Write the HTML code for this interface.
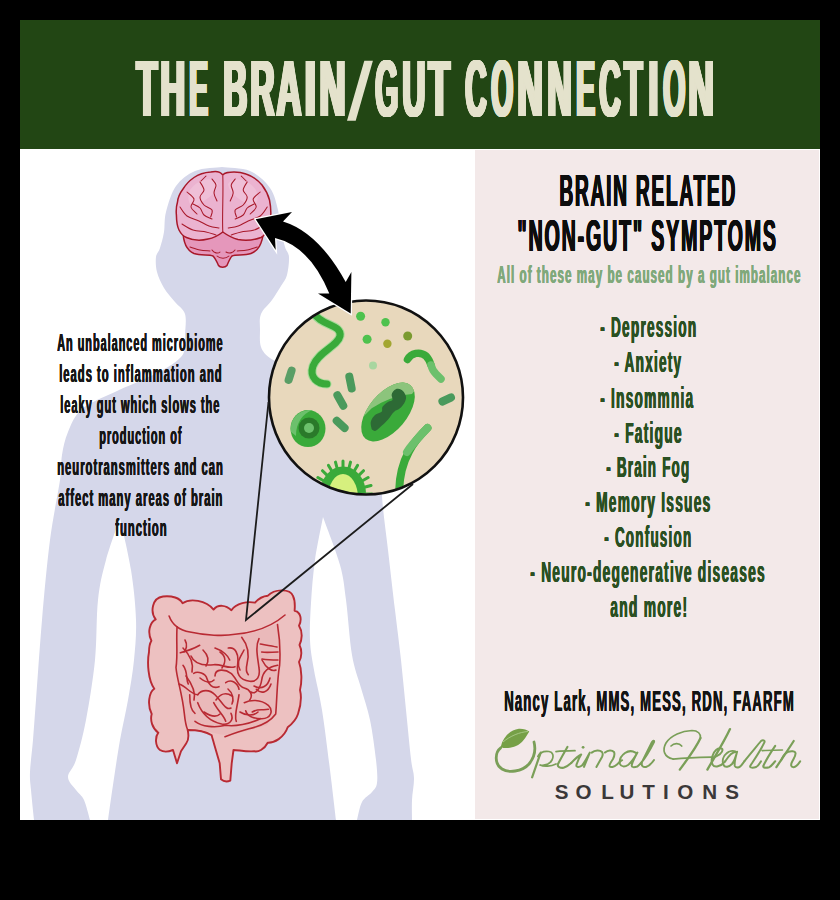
<!DOCTYPE html><html><head><meta charset="utf-8"><style>

*{margin:0;padding:0}
html,body{width:840px;height:900px;background:#000;overflow:hidden}
body{position:relative;font-family:"Liberation Sans",sans-serif}
.card{position:absolute;left:20px;top:20px;width:800px;height:800px;background:#fff}
.hdr{position:absolute;left:20px;top:20px;width:800px;height:129px;background:#224614}
.pnl{position:absolute;left:475px;top:150px;width:344px;height:669px;background:#f3e9e9}
.t{position:absolute;white-space:nowrap;font-weight:700;transform-origin:0 0}
svg.ill{position:absolute;left:0;top:0}

</style></head><body>
<div class="card"></div><div class="hdr"></div><div class="pnl"></div>
<svg class="ill" width="840" height="900" viewBox="0 0 840 900">
<path fill="#e4e2cc" d="M347,120.7 L355.7,120.7 L372.9,60.7 L364.3,60.7 Z"/>
<path fill="#d5d7ea" d="M222,167 C226.7,167.7 242.0,167.5 250.0,171.0 C258.0,174.5 265.3,181.5 270.0,188.0 C274.7,194.5 276.2,203.0 278.0,210.0 C279.8,217.0 279.8,223.8 281.0,230.0 C282.2,236.2 283.7,242.5 285.0,247.0 C286.3,251.5 288.7,252.3 289.0,257.0 C289.3,261.7 288.3,270.2 287.0,275.0 C285.7,279.8 283.5,281.8 281.0,286.0 C278.5,290.2 275.3,295.3 272.0,300.0 C268.7,304.7 263.0,309.0 261.0,314.0 C259.0,319.0 260.0,324.5 260.0,330.0 C260.0,335.5 259.3,342.3 261.0,347.0 C262.7,351.7 265.2,354.5 270.0,358.0 C274.8,361.5 280.0,362.7 290.0,368.0 C300.0,373.3 318.0,383.3 330.0,390.0 C342.0,396.7 354.0,401.0 362.0,408.0 C370.0,415.0 374.5,422.5 378.0,432.0 C381.5,441.5 382.3,454.3 383.0,465.0 C383.7,475.7 381.2,481.8 382.0,496.0 C382.8,510.2 385.8,531.0 388.0,550.0 C390.2,569.0 392.8,591.7 395.0,610.0 C397.2,628.3 399.2,643.3 401.0,660.0 C402.8,676.7 404.3,693.5 406.0,710.0 C407.7,726.5 409.7,747.7 411.0,759.0 C412.3,770.3 413.8,771.2 414.0,778.0 C414.2,784.8 412.3,793.0 412.0,800.0 C411.7,807.0 412.0,816.7 412.0,820.0 L357,820 C357.8,817.0 359.5,806.7 362.0,802.0 C364.5,797.3 369.5,795.2 372.0,792.0 C374.5,788.8 376.3,788.3 377.0,783.0 C377.7,777.7 377.2,770.5 376.0,760.0 C374.8,749.5 372.5,732.0 370.0,720.0 C367.5,708.0 364.0,698.8 361.0,688.0 C358.0,677.2 354.5,669.7 352.0,655.0 C349.5,640.3 348.0,615.0 346.0,600.0 C344.0,585.0 343.8,578.8 340.0,565.0 C336.2,551.2 325.8,525.0 323.0,517.0 C321.7,524.2 317.0,545.7 315.0,560.0 C313.0,574.3 311.8,589.7 311.0,603.0 C310.2,616.3 309.5,628.8 310.0,640.0 C310.5,651.2 312.0,658.3 314.0,670.0 C316.0,681.7 319.3,693.3 322.0,710.0 C324.7,726.7 327.7,751.7 330.0,770.0 C332.3,788.3 335.0,811.7 336.0,820.0 L108,820 C108.8,814.2 111.0,798.3 113.0,785.0 C115.0,771.7 117.5,754.2 120.0,740.0 C122.5,725.8 125.7,713.3 128.0,700.0 C130.3,686.7 132.7,673.3 134.0,660.0 C135.3,646.7 136.5,635.0 136.0,620.0 C135.5,605.0 133.7,587.0 131.0,570.0 C128.3,553.0 121.8,526.7 120.0,518.0 C117.7,525.0 109.7,546.3 106.0,560.0 C102.3,573.7 99.8,583.3 98.0,600.0 C96.2,616.7 97.0,640.0 95.0,660.0 C93.0,680.0 89.2,703.3 86.0,720.0 C82.8,736.7 79.0,750.5 76.0,760.0 C73.0,769.5 68.0,772.0 68.0,777.0 C68.0,782.0 73.3,786.2 76.0,790.0 C78.7,793.8 81.7,795.0 84.0,800.0 C86.3,805.0 89.0,816.7 90.0,820.0 L34,820 C33.5,815.0 31.7,798.0 31.0,790.0 C30.3,782.0 29.7,780.3 30.0,772.0 C30.3,763.7 32.0,752.0 33.0,740.0 C34.0,728.0 34.5,720.0 36.0,700.0 C37.5,680.0 39.7,646.7 42.0,620.0 C44.3,593.3 47.0,563.3 50.0,540.0 C53.0,516.7 58.0,494.2 60.0,480.0 C62.0,465.8 60.7,463.0 62.0,455.0 C63.3,447.0 64.7,439.7 68.0,432.0 C71.3,424.3 74.2,415.7 82.0,409.0 C89.8,402.3 103.2,397.7 115.0,392.0 C126.8,386.3 143.2,379.8 153.0,375.0 C162.8,370.2 168.8,366.8 174.0,363.0 C179.2,359.2 182.2,356.7 184.0,352.0 C185.8,347.3 184.8,341.3 185.0,335.0 C185.2,328.7 186.7,319.5 185.0,314.0 C183.3,308.5 178.5,306.3 175.0,302.0 C171.5,297.7 167.0,293.0 164.0,288.0 C161.0,283.0 158.3,277.2 157.0,272.0 C155.7,266.8 155.5,261.0 156.0,257.0 C156.5,253.0 158.7,252.2 160.0,248.0 C161.3,243.8 163.0,238.0 164.0,232.0 C165.0,226.0 164.0,219.7 166.0,212.0 C168.0,204.3 171.2,192.8 176.0,186.0 C180.8,179.2 187.3,174.2 195.0,171.0 C202.7,167.8 217.5,167.7 222.0,167.0 Z"/>
<g stroke-linejoin="round">
<path fill="#e597bb" stroke="#a8182a" stroke-width="1.5" d="M183,230 C183,242 186,250 194,253.5 C201,256 209,254 213,256 C215,258 217,262 218.5,265.5 C220,267.8 225,267.8 227,265.5 C228.5,262 230,258 232,256 C236,254 244,256 251,253.5 C258,251 262,245 264,230 Z"/>
<path fill="#ebb3d0" stroke="#a8182a" stroke-width="1.5" d="M222.8,175 C220,171 215,171 210.7,172 C204,172.5 199,174 194,177.5 C189,181 186,184 183,189 C180,193 178,196 177.5,202 C176,207 176,211 176.4,215 C176.5,221 177,226 179,230 C181,234 183,236 186.4,237.5 C192,240 200,241 208,239 C214,238 219,235 222.8,232 C227,235 232,238 238,239.5 C246,241 254,240 261,237.5 C264,236 266,233 267.5,230 C270,225 271,220 270.8,215 C271,210 270.5,205 269.5,200 C268,194 265,189 262,185 C258,180 252,176 246,174 C242,172.5 238,172 234,172 C229,172 225,172 222.8,175 Z"/>
<path fill="#f2c6dc" opacity="0.6" d="M190,190 C198,178 214,176 218,184 C216,196 204,200 196,206 C190,208 186,200 190,190 Z M256,190 C248,178 232,176 228,184 C230,196 242,200 250,206 C256,208 260,200 256,190 Z"/>
<g fill="none" stroke="#a8182a" stroke-width="1.05" stroke-linecap="round">
<path d="M222.8,176 C223.5,195 222,215 222.8,232"/>
<path d="M212.0,179.0 C212.7,180.0 215.7,182.7 216.0,185.0 C216.3,187.3 213.8,190.3 214.0,193.0 C214.2,195.7 216.5,199.7 217.0,201.0"/><path d="M200.0,182.0 C200.7,183.3 204.0,187.5 204.0,190.0 C204.0,192.5 200.0,194.5 200.0,197.0 C200.0,199.5 202.0,202.8 204.0,205.0 C206.0,207.2 210.9,208.0 212.0,210.0 C213.1,212.0 210.9,215.8 210.7,217.0"/><path d="M187.0,192.0 C188.2,193.2 193.3,196.5 194.0,199.0 C194.7,201.5 190.5,204.5 191.0,207.0 C191.5,209.5 196.0,212.8 197.0,214.0"/><path d="M180.0,207.0 C181.2,208.5 183.8,213.7 187.0,216.0 C190.2,218.3 195.3,219.3 199.0,221.0 C202.7,222.7 205.7,224.8 209.0,226.0 C212.3,227.2 217.3,227.7 219.0,228.0"/><path d="M193.0,204.0 C194.2,204.7 198.2,206.2 200.0,208.0 C201.8,209.8 202.0,213.2 204.0,215.0 C206.0,216.8 210.7,218.3 212.0,219.0"/><path d="M182.0,224.0 C183.8,225.0 189.0,228.7 193.0,230.0 C197.0,231.3 202.2,231.2 206.0,232.0 C209.8,232.8 214.3,234.5 216.0,235.0"/><path d="M206.0,176.0 C205.2,176.8 201.8,180.2 201.0,181.0"/><path d="M190.0,247.0 C191.7,247.5 196.7,249.3 200.0,250.0 C203.3,250.7 208.3,250.8 210.0,251.0"/><path d="M235.2,179.0 C234.5,180.0 231.5,182.7 231.2,185.0 C230.9,187.3 233.4,190.3 233.2,193.0 C233.0,195.7 230.7,199.7 230.2,201.0"/><path d="M247.2,182.0 C246.5,183.3 243.2,187.5 243.2,190.0 C243.2,192.5 247.2,194.5 247.2,197.0 C247.2,199.5 245.2,202.8 243.2,205.0 C241.2,207.2 236.3,208.0 235.2,210.0 C234.1,212.0 236.3,215.8 236.5,217.0"/><path d="M260.2,192.0 C259.0,193.2 253.9,196.5 253.2,199.0 C252.5,201.5 256.7,204.5 256.2,207.0 C255.7,209.5 251.2,212.8 250.2,214.0"/><path d="M267.2,207.0 C266.0,208.5 263.4,213.7 260.2,216.0 C257.0,218.3 251.9,219.3 248.2,221.0 C244.5,222.7 241.5,224.8 238.2,226.0 C234.9,227.2 229.9,227.7 228.2,228.0"/><path d="M254.2,204.0 C253.0,204.7 249.0,206.2 247.2,208.0 C245.4,209.8 245.2,213.2 243.2,215.0 C241.2,216.8 236.5,218.3 235.2,219.0"/><path d="M265.2,224.0 C263.4,225.0 258.2,228.7 254.2,230.0 C250.2,231.3 245.0,231.2 241.2,232.0 C237.4,232.8 232.9,234.5 231.2,235.0"/><path d="M241.2,176.0 C242.0,176.8 245.4,180.2 246.2,181.0"/><path d="M257.2,247.0 C255.5,247.5 250.5,249.3 247.2,250.0 C243.9,250.7 238.9,250.8 237.2,251.0"/>
<path d="M212,250 C214,253 218,254 220,252 M226,252 C229,254 233,253 235,250 M217,256 C220,259 226,259 229,256"/>
</g></g>
<defs><clipPath id="cc"><circle cx="366" cy="397.5" r="96"/></clipPath></defs>
<circle cx="366" cy="397.5" r="97" fill="#e8d8bc"/>
<g clip-path="url(#cc)" stroke-linecap="round" fill="none"><path stroke="#a6dc9a" stroke-width="9" d="M313,312 C320,326 342,324 340,336 C338,346 318,352 313,366 C309,378 318,384 327,384"/><path stroke="#3aaa3a" stroke-width="7" d="M313,312 C320,326 342,324 340,336 C338,346 318,352 313,366 C309,378 318,384 327,384"/><path stroke="#5a9e66" stroke-width="8" d="M291.6,370.6 L288.6,380"/><path stroke="#4a9a5c" stroke-width="8" d="M349.3,376.6 L351.7,388.5"/><path stroke="#4a9a5c" stroke-width="8" d="M337.4,395.2 L343.3,405.7"/><path stroke="#4a9a5c" stroke-width="8" d="M336.7,420.8 L344.6,428"/><path stroke="#4a9a5c" stroke-width="8" d="M442.4,401.5 L451,397.5"/></g><g clip-path="url(#cc)"><circle cx="360.6" cy="316.3" r="4.5" fill="#4ec24e"/><circle cx="385.5" cy="322.2" r="4.2" fill="#4ec24e"/><circle cx="367.1" cy="339.3" r="4.5" fill="#4ec24e"/><circle cx="387.4" cy="343.8" r="4.2" fill="#a2a632"/><circle cx="407.7" cy="336" r="4.5" fill="#7a9a30"/><circle cx="373" cy="365.4" r="4" fill="#a8d6a0"/><path fill="none" stroke-linecap="round" stroke="#3aaa3a" stroke-width="7.5" d="M407.5,359.5 C411,353 420,351 426,356 C429,359 430,362 431,365"/><path fill="none" stroke-linecap="round" stroke="#6cc06c" stroke-width="7.5" d="M431,365 C432,369 434,372 436,374 C438,376 439.5,377.5 441,379"/><ellipse cx="308" cy="428.6" rx="17.5" ry="18.5" fill="#3aaa3a"/><path fill="#6cc06c" d="M291,432 C289,418 300,409 312,410 C303,414 296,422 296,436 Z"/><circle cx="309" cy="428" r="10.5" fill="#2a7a2a"/><circle cx="309" cy="428" r="5" fill="#6cc06c"/><ellipse cx="388" cy="412" rx="35" ry="19" transform="rotate(-50 388 412)" fill="#3aaa3a"/><defs><clipPath id="bc"><ellipse cx="388" cy="412" rx="35" ry="19" transform="rotate(-50 388 412)"/></clipPath></defs><path clip-path="url(#bc)" fill="#8cc47c" d="M350,370 L360,420 L371.7,408.3 C385,400 395,396 412,394 L430,370 Z"/><path fill="#2d6a35" d="M371.7,429.2 C371.6,427.9 370.2,424.1 370.8,421.7 C371.4,419.3 373.2,416.7 375.0,415.0 C376.8,413.3 380.4,413.1 381.7,411.7 C382.9,410.3 381.4,408.4 382.5,406.7 C383.6,405.0 386.6,402.8 388.3,401.7 C390.0,400.6 391.9,401.2 392.5,400.0 C393.1,398.8 391.1,396.0 391.7,394.2 C392.2,392.4 394.1,389.9 395.8,389.2 C397.5,388.5 400.0,388.9 401.7,390.0 C403.4,391.1 405.2,393.9 405.8,395.8 C406.4,397.8 406.0,399.6 405.0,401.7 C404.0,403.8 401.8,406.6 400.0,408.3 C398.2,410.0 396.1,409.9 394.2,411.7 C392.2,413.5 390.2,417.0 388.3,419.2 C386.4,421.4 384.6,423.1 382.5,425.0 C380.4,426.9 377.6,430.1 375.8,430.8 C374.0,431.5 372.4,429.5 371.7,429.2 Z"/><path fill="none" stroke-linecap="round" stroke="#3aaa3a" stroke-width="8" d="M427.4,428 C415,440 400,458 399.2,490"/><path fill="none" stroke-linecap="round" stroke="#6cc06c" stroke-width="8" d="M427.4,428 C420,436 412,444 407,452"/><path stroke="#3aaa3a" stroke-width="3" stroke-linecap="round" d="M320.0,494.0 L314.0,494.0 M320.8,487.0 L315.0,485.5 M323.1,480.5 L317.9,477.5 M326.7,474.9 L322.5,470.7 M331.5,470.6 L328.5,465.4 M337.0,467.9 L335.5,462.1 M343.0,467.0 L343.0,461.0 M349.0,467.9 L350.5,462.1 M354.5,470.6 L357.5,465.4 M359.3,474.9 L363.5,470.7 M362.9,480.5 L368.1,477.5 M365.2,487.0 L371.0,485.5 M366.0,494.0 L372.0,494.0"/><ellipse cx="343" cy="494" rx="23" ry="27.5" fill="#3aaa3a"/><ellipse cx="343" cy="498" rx="15" ry="24" fill="#d6f07e"/></g>
<circle cx="366" cy="397.5" r="97" fill="none" stroke="#111" stroke-width="2.6"/>
<path fill="#000" stroke="#fff" stroke-width="2.5" paint-order="stroke" stroke-linejoin="miter" d="M255.7,219.3 L292,212 L283,221.4 Q318.45,232.3 345.7,282 L351.4,272 L350.7,313.6 L318,293.6 L329.3,293.6 Q309.85,246.2 275,238 L275.7,250 Z"/>
<path fill="#edc1c1" stroke="#b92a33" stroke-width="1.9" stroke-linejoin="round" d="M155.7,619.3
C150,612 152,598 163,596.5 C172,595.5 180,598 182.5,603.2
C190,598 206,600 213.6,609.6
C218,604 226,605 231.4,610.2
C236,603 248,601 255,602.7
C259,598 263,596 267.9,595.7
C274,589 290,588 293,596 C295,600 295,606 294.6,610.7
C301,612 302,620 299,625.7
C303,632 302,640 299.5,645
C302,650 302,657 299,662
C302,670 302,682 300,690
C302,698 300,708 298,714
C296,720 292,724 287.7,727.3
C284,738 274,743 267.7,742.7
C264,750 258,752 254.3,751.3
C246,752 238,750 233.5,750
L231.7,763.3 L230.3,780.7 C227,782 224,782 221,779.3 L219.7,763.3 L214.3,744.7 C213,740 212,737 211.7,735.3
C205,731 198,730 187.7,730
C189,736 188,741 186.3,743.3 L181,751.3 L177,763.3 L173,750
C168,752 163,752 160,750 C155,746 155,737 158.3,732.7
C152,728 150,720 151.7,714
C147,705 149,692 154.3,688.7
C148,680 147,662 149,652 C149,646 150,643 151.4,640.7
C147,632 150,622 155.7,619.3 Z"/>
<path fill="#eab9ba" d="M176.3,626.7 C190,634 210,637 224,635.5 C245,636 262,631 279,622.7 L280.3,646.7 L277.7,665.3 L276.3,702.7 L273.7,716 L267,725.3 C250,730 235,735 221.7,734.7 L188.3,726.7 L184.3,713.3 L179,684 L176.3,666.7 Z"/>
<g fill="none" stroke="#b92a33" stroke-width="1.6" stroke-linecap="round" stroke-linejoin="round"><path d="M169.1,616 C172,624 178,630 190,632 C205,635.4 224,636.4 235,634.3 C250,633 270,628 285,615"/><path d="M177.1,626.8 C176,640 178,655 176,667.5 C177,680 182,692 184.3,713.3 C185,720 186,726 187.7,730"/><path d="M277.5,624.6 C280,640 280.7,650 279.6,665.4 C277,680 277,700 275.7,714 C270,722 262,726 249,728.7 C240,731 232,734 225,736.7"/><path d="M180.3,652.7 C188.3,650.7 195,648 199.7,645.3"/><path d="M191,656 C193.7,662.7 201.7,666 213.7,664.7 C221.7,664 228.3,669.3 235,666.7"/><path d="M215,648 C223,650.7 228.3,656 229.7,660"/><path d="M228.3,648 C235,646.7 239,653.3 237.7,664 C236.3,673.3 239,680 249.7,681.3 C257.7,682 260.3,676 259,668 C257.7,657.3 255,646.7 259,638.7"/><path d="M241.7,637.3 C247,644 249.7,653.3 247,664 C245.7,669.3 247,673.3 248.3,674.7"/><path d="M260.3,644 C266,645 272,646 277,647 M261.7,652 C267,653 272,652 278,652 M262,659 C268,660 272,660 278,660"/><path d="M277.7,665.3 C268.3,666.7 263,670.7 261.7,680 C260.3,689.3 255,694.7 251,692"/><path d="M271,684 C268.3,692 261.7,694.7 256.3,689.3"/><path d="M215,676 C215,668 225.7,669.3 231,673.3 C236.3,677.3 237.7,686.7 244.3,688 C249.7,689.3 253.7,694.7 249.7,700"/><path d="M225.7,682.7 C231,678.7 237.7,682.7 239,689.3"/><path d="M183,665.3 C188.3,672 185.7,680 188.3,684"/><path d="M193.7,673.3 C197.7,670.7 205.7,673.3 207,678.7 C208.3,684 212.3,689.3 219,686.7"/><path d="M197.7,694.7 C201.7,689.3 209.7,689.3 215,694.7 C223,702.7 225.7,710.7 231,708"/><path d="M197.7,702.7 C201.7,713.3 209.7,721.3 221.7,724 C231,725.3 233.7,718.7 231,713.3"/><path d="M213.7,702.7 C217.7,710.7 224.3,716 225.7,721.3"/><path d="M239,694.7 C237.7,705.3 233.7,716 236.3,721.3"/><path d="M244.3,702.7 C249.7,700 260.3,698.7 268.3,705.3 C273.7,710.7 271,718.7 261.7,718.7 C253.7,718.7 247,716 245.7,710.7"/><path d="M252.3,712 C257.7,708 263,710.7 268.3,709.3"/><path d="M179,684 C187,686.7 191,694.7 197.7,694.7"/><path d="M189.7,694.7 C189.7,702.7 191,710.7 195,713.3"/><path d="M195,721.3 C201.7,726.7 215,728 225.7,725.3 C235,726.7 249.7,724 260.3,718.7"/><path d="M185,640 C188,645 186,650 184,652"/><path d="M228,689 C233,693 234,700 232,704"/><path d="M183,648 C190,655 194,662 192,672"/><path d="M186,676 C192,684 196,692 194,700"/><path d="M203,650 C208,655 210,660 206,666"/><path d="M200,678 C205,682 210,684 214,680"/><path d="M220,652 C226,656 226,662 222,668"/><path d="M244,650 C240,658 236,662 240,670"/><path d="M254,686 C262,690 268,686 270,678"/><path d="M204,712 C210,716 216,718 220,714"/><path d="M240,712 C246,716 254,716 258,712"/><path d="M262,660 C266,668 272,672 276,670"/><path d="M216,700 C220,694 226,692 232,696"/></g>
<path fill="none" stroke="#1c1c1c" stroke-width="1.8" stroke-linejoin="miter" d="M268.5,402 L246,620 L413,484"/>
</svg>
<div class="t" style="left:134.67px;top:48.79px;font-size:79.4px;line-height:79.4px;color:#e4e2cc;transform:scaleX(0.4296);letter-spacing:0px;text-shadow:0.50px 0 0 currentColor,1.00px 0 0 currentColor,1.50px 0 0 currentColor,2.00px 0 0 currentColor,2.50px 0 0 currentColor,3.00px 0 0 currentColor,3.50px 0 0 currentColor,4.00px 0 0 currentColor,4.50px 0 0 currentColor,5.00px 0 0 currentColor,5.50px 0 0 currentColor,6.00px 0 0 currentColor,6.50px 0 0 currentColor,7.00px 0 0 currentColor">T</div>
<div class="t" style="left:159.15px;top:48.79px;font-size:79.4px;line-height:79.4px;color:#e4e2cc;transform:scaleX(0.4296);letter-spacing:0px;text-shadow:0.50px 0 0 currentColor,1.00px 0 0 currentColor,1.50px 0 0 currentColor,2.00px 0 0 currentColor,2.50px 0 0 currentColor,3.00px 0 0 currentColor,3.50px 0 0 currentColor,4.00px 0 0 currentColor,4.50px 0 0 currentColor,5.00px 0 0 currentColor,5.50px 0 0 currentColor,6.00px 0 0 currentColor,6.50px 0 0 currentColor,7.00px 0 0 currentColor">H</div>
<div class="t" style="left:188.13px;top:48.79px;font-size:79.4px;line-height:79.4px;color:#e4e2cc;transform:scaleX(0.3538);letter-spacing:0px;text-shadow:0.50px 0 0 currentColor,1.00px 0 0 currentColor,1.50px 0 0 currentColor,2.00px 0 0 currentColor,2.50px 0 0 currentColor,3.00px 0 0 currentColor,3.50px 0 0 currentColor,4.00px 0 0 currentColor,4.50px 0 0 currentColor,5.00px 0 0 currentColor,5.50px 0 0 currentColor,6.00px 0 0 currentColor,6.50px 0 0 currentColor,7.00px 0 0 currentColor">E</div>
<div class="t" style="left:222.13px;top:48.79px;font-size:79.4px;line-height:79.4px;color:#e4e2cc;transform:scaleX(0.4143);letter-spacing:0px;text-shadow:0.50px 0 0 currentColor,1.00px 0 0 currentColor,1.50px 0 0 currentColor,2.00px 0 0 currentColor,2.50px 0 0 currentColor,3.00px 0 0 currentColor,3.50px 0 0 currentColor,4.00px 0 0 currentColor,4.50px 0 0 currentColor,5.00px 0 0 currentColor,5.50px 0 0 currentColor,6.00px 0 0 currentColor,6.50px 0 0 currentColor,7.00px 0 0 currentColor">B</div>
<div class="t" style="left:248.91px;top:48.79px;font-size:79.4px;line-height:79.4px;color:#e4e2cc;transform:scaleX(0.4175);letter-spacing:0px;text-shadow:0.50px 0 0 currentColor,1.00px 0 0 currentColor,1.50px 0 0 currentColor,2.00px 0 0 currentColor,2.50px 0 0 currentColor,3.00px 0 0 currentColor,3.50px 0 0 currentColor,4.00px 0 0 currentColor,4.50px 0 0 currentColor,5.00px 0 0 currentColor,5.50px 0 0 currentColor,6.00px 0 0 currentColor,6.50px 0 0 currentColor,7.00px 0 0 currentColor">R</div>
<div class="t" style="left:275.13px;top:48.79px;font-size:79.4px;line-height:79.4px;color:#e4e2cc;transform:scaleX(0.4333);letter-spacing:0px;text-shadow:0.50px 0 0 currentColor,1.00px 0 0 currentColor,1.50px 0 0 currentColor,2.00px 0 0 currentColor,2.50px 0 0 currentColor,3.00px 0 0 currentColor,3.50px 0 0 currentColor,4.00px 0 0 currentColor,4.50px 0 0 currentColor,5.00px 0 0 currentColor,5.50px 0 0 currentColor,6.00px 0 0 currentColor,6.50px 0 0 currentColor,7.00px 0 0 currentColor">A</div>
<div class="t" style="left:303.2px;top:48.79px;font-size:79.4px;line-height:79.4px;color:#e4e2cc;transform:scaleX(0.5);letter-spacing:0px;text-shadow:0.50px 0 0 currentColor,1.00px 0 0 currentColor,1.50px 0 0 currentColor,2.00px 0 0 currentColor,2.50px 0 0 currentColor,3.00px 0 0 currentColor,3.50px 0 0 currentColor,4.00px 0 0 currentColor,4.50px 0 0 currentColor,5.00px 0 0 currentColor,5.50px 0 0 currentColor,6.00px 0 0 currentColor,6.50px 0 0 currentColor,7.00px 0 0 currentColor">I</div>
<div class="t" style="left:317.75px;top:48.79px;font-size:79.4px;line-height:79.4px;color:#e4e2cc;transform:scaleX(0.45);letter-spacing:0px;text-shadow:0.50px 0 0 currentColor,1.00px 0 0 currentColor,1.50px 0 0 currentColor,2.00px 0 0 currentColor,2.50px 0 0 currentColor,3.00px 0 0 currentColor,3.50px 0 0 currentColor,4.00px 0 0 currentColor,4.50px 0 0 currentColor,5.00px 0 0 currentColor,5.50px 0 0 currentColor,6.00px 0 0 currentColor,6.50px 0 0 currentColor,7.00px 0 0 currentColor">N</div>
<div class="t" style="left:374.29px;top:48.79px;font-size:79.4px;line-height:79.4px;color:#e4e2cc;transform:scaleX(0.3705);letter-spacing:0px;text-shadow:0.50px 0 0 currentColor,1.00px 0 0 currentColor,1.50px 0 0 currentColor,2.00px 0 0 currentColor,2.50px 0 0 currentColor,3.00px 0 0 currentColor,3.50px 0 0 currentColor,4.00px 0 0 currentColor,4.50px 0 0 currentColor,5.00px 0 0 currentColor,5.50px 0 0 currentColor,6.00px 0 0 currentColor,6.50px 0 0 currentColor,7.00px 0 0 currentColor">G</div>
<div class="t" style="left:401.31px;top:48.79px;font-size:79.4px;line-height:79.4px;color:#e4e2cc;transform:scaleX(0.3981);letter-spacing:0px;text-shadow:0.50px 0 0 currentColor,1.00px 0 0 currentColor,1.50px 0 0 currentColor,2.00px 0 0 currentColor,2.50px 0 0 currentColor,3.00px 0 0 currentColor,3.50px 0 0 currentColor,4.00px 0 0 currentColor,4.50px 0 0 currentColor,5.00px 0 0 currentColor,5.50px 0 0 currentColor,6.00px 0 0 currentColor,6.50px 0 0 currentColor,7.00px 0 0 currentColor">U</div>
<div class="t" style="left:426.66px;top:48.79px;font-size:79.4px;line-height:79.4px;color:#e4e2cc;transform:scaleX(0.4426);letter-spacing:0px;text-shadow:0.50px 0 0 currentColor,1.00px 0 0 currentColor,1.50px 0 0 currentColor,2.00px 0 0 currentColor,2.50px 0 0 currentColor,3.00px 0 0 currentColor,3.50px 0 0 currentColor,4.00px 0 0 currentColor,4.50px 0 0 currentColor,5.00px 0 0 currentColor,5.50px 0 0 currentColor,6.00px 0 0 currentColor,6.50px 0 0 currentColor,7.00px 0 0 currentColor">T</div>
<div class="t" style="left:464.28px;top:48.79px;font-size:79.4px;line-height:79.4px;color:#e4e2cc;transform:scaleX(0.3729);letter-spacing:0px;text-shadow:0.50px 0 0 currentColor,1.00px 0 0 currentColor,1.50px 0 0 currentColor,2.00px 0 0 currentColor,2.50px 0 0 currentColor,3.00px 0 0 currentColor,3.50px 0 0 currentColor,4.00px 0 0 currentColor,4.50px 0 0 currentColor,5.00px 0 0 currentColor,5.50px 0 0 currentColor,6.00px 0 0 currentColor,6.50px 0 0 currentColor,7.00px 0 0 currentColor">C</div>
<div class="t" style="left:489.94px;top:48.79px;font-size:79.4px;line-height:79.4px;color:#e4e2cc;transform:scaleX(0.3548);letter-spacing:0px;text-shadow:0.50px 0 0 currentColor,1.00px 0 0 currentColor,1.50px 0 0 currentColor,2.00px 0 0 currentColor,2.50px 0 0 currentColor,3.00px 0 0 currentColor,3.50px 0 0 currentColor,4.00px 0 0 currentColor,4.50px 0 0 currentColor,5.00px 0 0 currentColor,5.50px 0 0 currentColor,6.00px 0 0 currentColor,6.50px 0 0 currentColor,7.00px 0 0 currentColor">O</div>
<div class="t" style="left:516.1px;top:48.79px;font-size:79.4px;line-height:79.4px;color:#e4e2cc;transform:scaleX(0.4407);letter-spacing:0px;text-shadow:0.50px 0 0 currentColor,1.00px 0 0 currentColor,1.50px 0 0 currentColor,2.00px 0 0 currentColor,2.50px 0 0 currentColor,3.00px 0 0 currentColor,3.50px 0 0 currentColor,4.00px 0 0 currentColor,4.50px 0 0 currentColor,5.00px 0 0 currentColor,5.50px 0 0 currentColor,6.00px 0 0 currentColor,6.50px 0 0 currentColor,7.00px 0 0 currentColor">N</div>
<div class="t" style="left:546.0px;top:48.79px;font-size:79.4px;line-height:79.4px;color:#e4e2cc;transform:scaleX(0.4204);letter-spacing:0px;text-shadow:0.50px 0 0 currentColor,1.00px 0 0 currentColor,1.50px 0 0 currentColor,2.00px 0 0 currentColor,2.50px 0 0 currentColor,3.00px 0 0 currentColor,3.50px 0 0 currentColor,4.00px 0 0 currentColor,4.50px 0 0 currentColor,5.00px 0 0 currentColor,5.50px 0 0 currentColor,6.00px 0 0 currentColor,6.50px 0 0 currentColor,7.00px 0 0 currentColor">N</div>
<div class="t" style="left:575.03px;top:48.79px;font-size:79.4px;line-height:79.4px;color:#e4e2cc;transform:scaleX(0.3538);letter-spacing:0px;text-shadow:0.50px 0 0 currentColor,1.00px 0 0 currentColor,1.50px 0 0 currentColor,2.00px 0 0 currentColor,2.50px 0 0 currentColor,3.00px 0 0 currentColor,3.50px 0 0 currentColor,4.00px 0 0 currentColor,4.50px 0 0 currentColor,5.00px 0 0 currentColor,5.50px 0 0 currentColor,6.00px 0 0 currentColor,6.50px 0 0 currentColor,7.00px 0 0 currentColor">E</div>
<div class="t" style="left:598.28px;top:48.79px;font-size:79.4px;line-height:79.4px;color:#e4e2cc;transform:scaleX(0.3729);letter-spacing:0px;text-shadow:0.50px 0 0 currentColor,1.00px 0 0 currentColor,1.50px 0 0 currentColor,2.00px 0 0 currentColor,2.50px 0 0 currentColor,3.00px 0 0 currentColor,3.50px 0 0 currentColor,4.00px 0 0 currentColor,4.50px 0 0 currentColor,5.00px 0 0 currentColor,5.50px 0 0 currentColor,6.00px 0 0 currentColor,6.50px 0 0 currentColor,7.00px 0 0 currentColor">C</div>
<div class="t" style="left:623.43px;top:48.79px;font-size:79.4px;line-height:79.4px;color:#e4e2cc;transform:scaleX(0.3741);letter-spacing:0px;text-shadow:0.50px 0 0 currentColor,1.00px 0 0 currentColor,1.50px 0 0 currentColor,2.00px 0 0 currentColor,2.50px 0 0 currentColor,3.00px 0 0 currentColor,3.50px 0 0 currentColor,4.00px 0 0 currentColor,4.50px 0 0 currentColor,5.00px 0 0 currentColor,5.50px 0 0 currentColor,6.00px 0 0 currentColor,6.50px 0 0 currentColor,7.00px 0 0 currentColor">T</div>
<div class="t" style="left:646.79px;top:48.79px;font-size:79.4px;line-height:79.4px;color:#e4e2cc;transform:scaleX(0.4421);letter-spacing:0px;text-shadow:0.50px 0 0 currentColor,1.00px 0 0 currentColor,1.50px 0 0 currentColor,2.00px 0 0 currentColor,2.50px 0 0 currentColor,3.00px 0 0 currentColor,3.50px 0 0 currentColor,4.00px 0 0 currentColor,4.50px 0 0 currentColor,5.00px 0 0 currentColor,5.50px 0 0 currentColor,6.00px 0 0 currentColor,6.50px 0 0 currentColor,7.00px 0 0 currentColor">I</div>
<div class="t" style="left:661.63px;top:48.79px;font-size:79.4px;line-height:79.4px;color:#e4e2cc;transform:scaleX(0.3565);letter-spacing:0px;text-shadow:0.50px 0 0 currentColor,1.00px 0 0 currentColor,1.50px 0 0 currentColor,2.00px 0 0 currentColor,2.50px 0 0 currentColor,3.00px 0 0 currentColor,3.50px 0 0 currentColor,4.00px 0 0 currentColor,4.50px 0 0 currentColor,5.00px 0 0 currentColor,5.50px 0 0 currentColor,6.00px 0 0 currentColor,6.50px 0 0 currentColor,7.00px 0 0 currentColor">O</div>
<div class="t" style="left:687.3px;top:48.79px;font-size:79.4px;line-height:79.4px;color:#e4e2cc;transform:scaleX(0.4407);letter-spacing:0px;text-shadow:0.50px 0 0 currentColor,1.00px 0 0 currentColor,1.50px 0 0 currentColor,2.00px 0 0 currentColor,2.50px 0 0 currentColor,3.00px 0 0 currentColor,3.50px 0 0 currentColor,4.00px 0 0 currentColor,4.50px 0 0 currentColor,5.00px 0 0 currentColor,5.50px 0 0 currentColor,6.00px 0 0 currentColor,6.50px 0 0 currentColor,7.00px 0 0 currentColor">N</div>
<div class="t" style="left:558.72px;top:167.51px;font-size:45px;line-height:45px;color:#0d0d0d;transform:scaleX(0.4263);letter-spacing:4.05px;text-shadow:0.45px 0 0 currentColor,0.90px 0 0 currentColor,1.35px 0 0 currentColor,1.80px 0 0 currentColor">BRAIN RELATED</div>
<div class="t" style="left:517.49px;top:212.51px;font-size:45px;line-height:45px;color:#0d0d0d;transform:scaleX(0.4378);letter-spacing:4.05px;text-shadow:0.45px 0 0 currentColor,0.90px 0 0 currentColor,1.35px 0 0 currentColor,1.80px 0 0 currentColor">"NON-GUT" SYMPTOMS</div>
<div class="t" style="left:496.52px;top:262.91px;font-size:24.2px;line-height:24.2px;color:#80a97b;transform:scaleX(0.4806);letter-spacing:2.18px;text-shadow:0.50px 0 0 currentColor,1.00px 0 0 currentColor">All of these may be caused by a gut imbalance</div>
<div class="t" style="left:57.03px;top:332.08px;font-size:23.3px;line-height:23.3px;color:#161616;transform:scaleX(0.4674);letter-spacing:2.1px;text-shadow:0.45px 0 0 currentColor,0.90px 0 0 currentColor">An unbalanced microbiome</div>
<div class="t" style="left:59.34px;top:362.78px;font-size:23.3px;line-height:23.3px;color:#161616;transform:scaleX(0.4809);letter-spacing:2.1px;text-shadow:0.45px 0 0 currentColor,0.90px 0 0 currentColor">leads to inflammation and</div>
<div class="t" style="left:59.85px;top:393.68px;font-size:23.3px;line-height:23.3px;color:#161616;transform:scaleX(0.4731);letter-spacing:2.1px;text-shadow:0.45px 0 0 currentColor,0.90px 0 0 currentColor">leaky gut which slows the</div>
<div class="t" style="left:98.56px;top:424.68px;font-size:23.3px;line-height:23.3px;color:#161616;transform:scaleX(0.4695);letter-spacing:2.1px;text-shadow:0.45px 0 0 currentColor,0.90px 0 0 currentColor">production of</div>
<div class="t" style="left:56.94px;top:455.78px;font-size:23.3px;line-height:23.3px;color:#161616;transform:scaleX(0.4813);letter-spacing:2.1px;text-shadow:0.45px 0 0 currentColor,0.90px 0 0 currentColor">neurotransmitters and can</div>
<div class="t" style="left:58.42px;top:486.68px;font-size:23.3px;line-height:23.3px;color:#161616;transform:scaleX(0.4812);letter-spacing:2.1px;text-shadow:0.45px 0 0 currentColor,0.90px 0 0 currentColor">affect many areas of brain</div>
<div class="t" style="left:114.6px;top:517.38px;font-size:23.3px;line-height:23.3px;color:#161616;transform:scaleX(0.4821);letter-spacing:2.1px;text-shadow:0.45px 0 0 currentColor,0.90px 0 0 currentColor">function</div>
<div class="t" style="left:599.54px;top:312.37px;font-size:29.8px;line-height:29.8px;color:#2a5022;transform:scaleX(0.4567);letter-spacing:2.68px;text-shadow:0.60px 0 0 currentColor,1.20px 0 0 currentColor">- Depression</div>
<div class="t" style="left:613.54px;top:347.47px;font-size:29.8px;line-height:29.8px;color:#2a5022;transform:scaleX(0.4575);letter-spacing:2.68px;text-shadow:0.60px 0 0 currentColor,1.20px 0 0 currentColor">- Anxiety</div>
<div class="t" style="left:600.34px;top:382.57px;font-size:29.8px;line-height:29.8px;color:#2a5022;transform:scaleX(0.4591);letter-spacing:2.68px;text-shadow:0.60px 0 0 currentColor,1.20px 0 0 currentColor">- Insommnia</div>
<div class="t" style="left:613.54px;top:417.67px;font-size:29.8px;line-height:29.8px;color:#2a5022;transform:scaleX(0.4621);letter-spacing:2.68px;text-shadow:0.60px 0 0 currentColor,1.20px 0 0 currentColor">- Fatigue</div>
<div class="t" style="left:606.25px;top:452.37px;font-size:29.8px;line-height:29.8px;color:#2a5022;transform:scaleX(0.4505);letter-spacing:2.68px;text-shadow:0.60px 0 0 currentColor,1.20px 0 0 currentColor">- Brain Fog</div>
<div class="t" style="left:584.54px;top:486.97px;font-size:29.8px;line-height:29.8px;color:#2a5022;transform:scaleX(0.4611);letter-spacing:2.68px;text-shadow:0.60px 0 0 currentColor,1.20px 0 0 currentColor">- Memory Issues</div>
<div class="t" style="left:603.55px;top:521.97px;font-size:29.8px;line-height:29.8px;color:#2a5022;transform:scaleX(0.4518);letter-spacing:2.68px;text-shadow:0.60px 0 0 currentColor,1.20px 0 0 currentColor">- Confusion</div>
<div class="t" style="left:530.34px;top:557.37px;font-size:29.8px;line-height:29.8px;color:#2a5022;transform:scaleX(0.4621);letter-spacing:2.68px;text-shadow:0.60px 0 0 currentColor,1.20px 0 0 currentColor">- Neuro-degenerative diseases</div>
<div class="t" style="left:609.54px;top:592.37px;font-size:29.8px;line-height:29.8px;color:#2a5022;transform:scaleX(0.4638);letter-spacing:2.68px;text-shadow:0.60px 0 0 currentColor,1.20px 0 0 currentColor">and more!</div>
<div class="t" style="left:503.91px;top:685.71px;font-size:29.4px;line-height:29.4px;color:#141414;transform:scaleX(0.446);letter-spacing:2.65px;text-shadow:0.45px 0 0 currentColor,0.90px 0 0 currentColor">Nancy Lark, MMS, MESS, RDN, FAARFM</div>
<svg style="position:absolute;left:0;top:0" width="840" height="900" viewBox="0 0 840 900">
<g fill="none" stroke="#7a9f58" stroke-width="1.7" stroke-linecap="round" stroke-linejoin="round">
<path d="M500.7,747.8 C495,752 494,764 502,769 C508,773 522,772 529,764 C534,758 536,750 534,742" stroke-width="2.8"/>
<path d="M540.7,752.6 L532.1,777.3" stroke-width="2.2"/>
<path d="M537.9,756.4 C540,752 545,751 549,751.5 C553,752 554,756 552,760 C550,764 545,766 540,765 C544,767 551,766.5 556,764"/>
<path d="M567.4,746.9 C564,753 560,760 558,764 C557,767 560,768 563.6,767.8 C566,767 569,765 571.2,763" stroke-width="2.1"/>
<path d="M556,751.6 C562,751 569,750.8 575,750.7"/>
<path d="M571.2,763 C574,760 578,756 581.2,754.5 C579,758 577,763 576.4,765 C576,767.5 579,767.5 582,765.5 C585,762 588,756 589.8,752.6 L584,766.9" stroke-width="2"/>
<path d="M591.7,752.6 C595,750 600,750 602,752 C603,753.5 603,755 602,757 L596.4,766.9 M605,752.6 C608,750 612,750 614,752 C615,754 614.5,756 613,759 C611,762 609,765 609.5,766 C610.5,768 614,767 617,764.5 C619,762.5 620.5,761 622.1,760.2" stroke-width="2"/>
<path d="M635.5,752.6 C632,750.5 628,751 625,753 C621,756 619,760 620,764 C621,767 625,767 628,765 C632,762 635,757 637.4,752.6 C635,757 632,763 631.7,765.5 C631.5,767.5 634,767.5 637.4,766.5 C643,762 650,750 654,742 C654.5,740 653,740.5 652,742 C649,748 645,756 642,762 C641,766 643,767.5 646,767 C649,766 652,763 654,760" stroke-width="2"/>
<path d="M673,759 C664,757 662,750 666,743 C671,735 682,731 692,730.5 C698,730.5 701,734 700.5,738"/>
<path d="M700.5,738 C696,748 687,760 679.8,769.6" stroke-width="2.3"/>
<path d="M681.7,746 C679,742.5 674,743 671,746"/>
<path d="M673.1,759.1 C686,758 700,757.5 711.2,757.2"/>
<path d="M730,729.1 C724,742 714,758 707.4,769.6" stroke-width="2.3"/>
<path d="M712.5,758 C717.5,756 722.5,753 722.5,750 C722.5,747.5 718.5,747.5 716,750 C712.5,753 710.5,760 712.5,764.5 C714.5,768 720.5,767 725.2,761.3" stroke-width="2"/>
<path d="M725.2,761.3 C728,757 732,752 736,751.8 C733,750.5 729,751 727,753 C723,756 722,761 723.5,765 C725,768 729,767 732,764 C734.5,761 736,756 737.1,751.8 C736,756 734,762 734.8,766 C735.5,768 738,767.5 739.5,767 C741.5,766 743,763 744.3,761.3" stroke-width="2"/>
<path d="M744.3,761.3 C750,754 757,746 761,741 C763,739.5 765,740.5 764.5,742.2 C761,750 754,760 750.2,766 C749.5,768 753,768 756.2,767 C758,766 760,763 761,761.3" stroke-width="2"/>
<path d="M775.2,745.8 C771,752 766,760 763.3,766 C763,768 766,768 769.3,767.2 C771.5,766 773.5,763 775.2,761.3" stroke-width="2.1"/>
<path d="M762.1,750.6 C769,750.4 776,750.2 782.4,750"/>
<path d="M793.7,741 C788,750 781,760 776.4,767.2" stroke-width="2.2"/>
<path d="M781.2,760.1 C783,756 786,752.5 788.3,751.8 C791,751 795,751 795.5,753 C796,755.5 794,758 792,762 C790.5,765 791,767 793.5,767.2 C796,767 798.5,764 800.2,761.3" stroke-width="2"/>
</g>
<path fill="#76a047" d="M500.7,746.9 C503,737 510,730 518.8,728.8 C523,728.5 527,730 529.3,731.6 C526,737 522,744 516,746 C511,748 505,749 500.7,746.9 Z"/>
<path fill="none" stroke="#aacb8a" stroke-width="0.9" d="M503,742 C510,736 520,732 528,731.5"/>
<circle cx="583.1" cy="747.3" r="1.4" fill="#7a9f58"/>
</svg>
<div style="position:absolute;left:0;top:0;width:840px;height:900px;font-family:'Liberation Sans',sans-serif;font-weight:700;color:#3b3839;font-size:20.6px;line-height:20.6px"><span style="position:absolute;left:561.7px;top:781.56px;transform:translateX(-50%)">S</span><span style="position:absolute;left:583.6px;top:781.56px;transform:translateX(-50%)">O</span><span style="position:absolute;left:607.5px;top:781.56px;transform:translateX(-50%)">L</span><span style="position:absolute;left:627px;top:781.56px;transform:translateX(-50%)">U</span><span style="position:absolute;left:648.6px;top:781.56px;transform:translateX(-50%)">T</span><span style="position:absolute;left:665.9px;top:781.56px;transform:translateX(-50%)">I</span><span style="position:absolute;left:685.3px;top:781.56px;transform:translateX(-50%)">O</span><span style="position:absolute;left:709.6px;top:781.56px;transform:translateX(-50%)">N</span><span style="position:absolute;left:732px;top:781.56px;transform:translateX(-50%)">S</span></div>

</body></html>
